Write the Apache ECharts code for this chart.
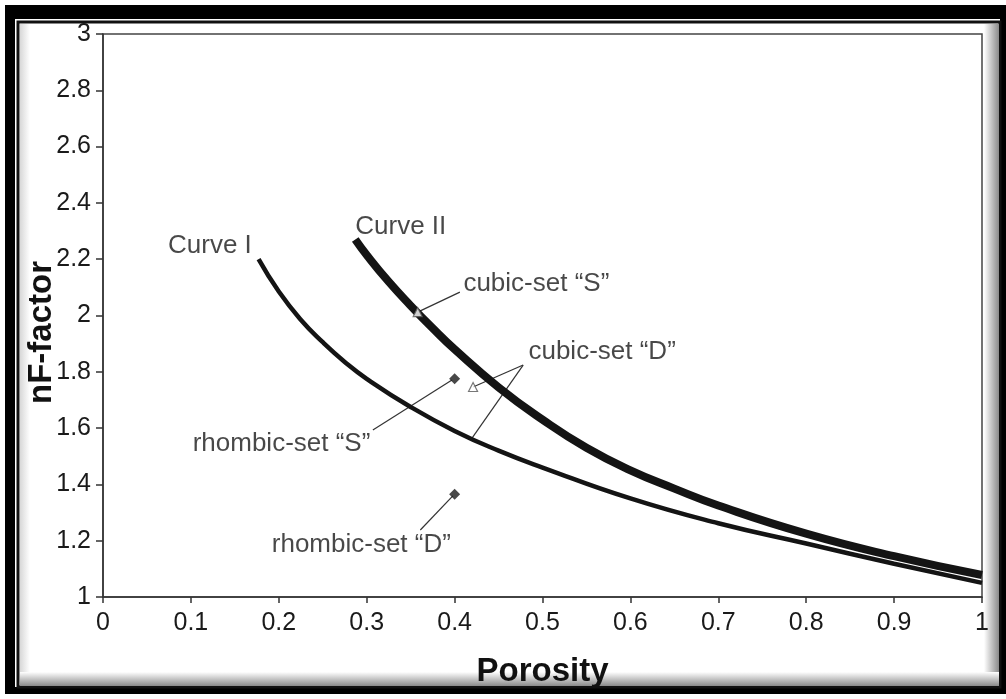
<!DOCTYPE html>
<html>
<head>
<meta charset="utf-8">
<title>nF-factor vs Porosity</title>
<script src="https://cdn.jsdelivr.net/npm/echarts@6/dist/echarts.min.js"></script>
<style>
    html, body { margin: 0; padding: 0; background: #fff; }
    #chart { width: 1006px; height: 699px; }
</style>
</head>
<body>
<div id="chart"></div>
<script>
    // values
    var curve1X = [0.177, 0.2, 0.225, 0.25, 0.275, 0.3, 0.35, 0.4, 0.45, 0.5, 0.6, 0.7, 0.8, 0.9, 1.0];
    var curve1Y = [2.20, 2.085, 1.985, 1.905, 1.835, 1.775, 1.675, 1.59, 1.52, 1.46, 1.35, 1.262, 1.19, 1.118, 1.05];

    var curve2X = [0.287, 0.3, 0.325, 0.35, 0.375, 0.4, 0.45, 0.5, 0.55, 0.6, 0.65, 0.7, 0.8, 0.9, 1.0];
    var curve2Y = [2.27, 2.215, 2.12, 2.035, 1.955, 1.88, 1.745, 1.63, 1.53, 1.45, 1.385, 1.325, 1.225, 1.145, 1.078];

    var rhombicX = [0.4, 0.4];
    var rhombicY = [1.775, 1.365];

    var cubicX = [0.358, 0.421];
    var cubicY = [2.012, 1.746];

    var xTicks = ['0', '0.1', '0.2', '0.3', '0.4', '0.5', '0.6', '0.7', '0.8', '0.9', '1'];

    var noteText = ['Curve I', 'Curve II', 'cubic-set \u201cS\u201d', 'cubic-set \u201cD\u201d', 'rhombic-set \u201cS\u201d', 'rhombic-set \u201cD\u201d'];
    var noteX = [0.074, 0.287, 0.41, 0.484, 0.102, 0.192];
    var noteY = [2.247, 2.314, 2.112, 1.87, 1.544, 1.185];

    // leader lines, [x1, y1, x2, y2]
    var leaders = [
        [0.406, 2.083, 0.358, 2.012],
        [0.478, 1.824, 0.421, 1.746],
        [0.478, 1.824, 0.420, 1.565],
        [0.307, 1.593, 0.397, 1.771],
        [0.361, 1.238, 0.398, 1.359]
    ];

    function zip(xs, ys) {
        var out = [];
        for (var i = 0; i < xs.length; i++) {
            out.push([xs[i], ys[i]]);
        }
        return out;
    }

    var chart = echarts.init(document.getElementById('chart'));

    var series = [{
        name: 'Curve I',
        type: 'line',
        data: zip(curve1X, curve1Y),
        smooth: true,
        symbol: 'none',
        lineStyle: { color: '#141414', width: 4.5 },
        z: 3
    }, {
        name: 'Curve II',
        type: 'line',
        data: zip(curve2X, curve2Y),
        smooth: true,
        symbol: 'none',
        lineStyle: { color: '#141414', width: 8 },
        z: 3
    }];

    leaders.forEach(function(l) {
        series.push({
            type: 'line',
            data: [[l[0], l[1]], [l[2], l[3]]],
            symbol: 'none',
            silent: true,
            lineStyle: { color: '#333', width: 1.2 },
            z: 2
        });
    });

    series.push({
        name: 'cubic',
        type: 'scatter',
        data: zip(cubicX, cubicY),
        symbol: 'triangle',
        symbolSize: 9,
        itemStyle: { color: '#fff', borderColor: '#555', borderWidth: 1.2 },
        z: 4
    });

    series.push({
        name: 'rhombic',
        type: 'scatter',
        data: zip(rhombicX, rhombicY),
        symbol: 'diamond',
        symbolSize: 11,
        itemStyle: { color: '#1a1a1a' },
        z: 4
    });

    series.push({
        name: 'notes',
        type: 'scatter',
        data: zip(noteX, noteY).map(function(p, i) {
            return { value: p, name: noteText[i] };
        }),
        symbolSize: 0,
        silent: true,
        label: {
            show: true,
            position: 'right',
            distance: 0,
            formatter: '{b}',
            color: '#1a1a1a',
            fontSize: 26,
            fontFamily: 'Liberation Sans, Arial, sans-serif'
        },
        z: 5
    });

    chart.setOption({
        backgroundColor: '#fff',
        animation: false,
        textStyle: { fontFamily: 'Liberation Sans, Arial, sans-serif' },
        // frame around the figure
        graphic: [
            { type: 'rect', z: -10, shape: { x: 5, y: 5, width: 1001, height: 689 }, style: { fill: '#000' } },
            { type: 'rect', z: -9, shape: { x: 15, y: 19, width: 985, height: 668 }, style: { fill: '#fff' } },
            { type: 'rect', z: -8, shape: { x: 18, y: 22, width: 982, height: 665 }, style: { fill: '#fff', stroke: '#111', lineWidth: 3 } },
            {
                type: 'rect', z: -7, shape: { x: 984, y: 24, width: 15, height: 662 },
                style: { fill: new echarts.graphic.LinearGradient(0, 0, 1, 0, [{ offset: 0, color: '#fff' }, { offset: 1, color: '#8a8a8a' }]) }
            },
            {
                type: 'rect', z: -7, shape: { x: 20, y: 672, width: 979, height: 14 },
                style: { fill: new echarts.graphic.LinearGradient(0, 0, 0, 1, [{ offset: 0, color: '#fff' }, { offset: 1, color: '#8a8a8a' }]) }
            },
            {
                type: 'rect', z: -7, shape: { x: 20, y: 24, width: 10, height: 648 },
                style: { fill: new echarts.graphic.LinearGradient(0, 0, 1, 0, [{ offset: 0, color: '#d8d8d8' }, { offset: 1, color: '#fff' }]) }
            }
        ],
        grid: {
            left: 103,
            right: 24,
            top: 34,
            bottom: 102,
            show: true,
            borderColor: '#444',
            borderWidth: 1.5,
            backgroundColor: '#fff'
        },
        xAxis: {
            type: 'value',
            min: 0,
            max: 1,
            interval: 0.1,
            name: 'Porosity',
            nameLocation: 'middle',
            nameGap: 58,
            nameMoveOverlap: false,
            nameTextStyle: { fontSize: 33, fontWeight: 'bold', color: '#111' },
            axisLine: { onZero: false, lineStyle: { color: '#333', width: 1.5 } },
            axisTick: { show: true, inside: false, length: 6, lineStyle: { color: '#333', width: 1.5 } },
            axisLabel: {
                margin: 14,
                fontSize: 25,
                color: '#1a1a1a',
                formatter: function(v) {
                    return xTicks[Math.round(v * 10)];
                }
            },
            splitLine: { show: false }
        },
        yAxis: {
            type: 'value',
            min: 1,
            max: 3,
            interval: 0.2,
            name: 'nF-factor',
            nameLocation: 'middle',
            nameGap: 45,
            nameMoveOverlap: false,
            nameTextStyle: { fontSize: 33, fontWeight: 'bold', color: '#111', padding: [0, 34, 0, 0] },
            axisLine: { show: true, onZero: false, lineStyle: { color: '#333', width: 1.5 } },
            axisTick: { show: true, inside: false, length: 7, lineStyle: { color: '#333', width: 1.5 } },
            axisLabel: {
                margin: 12,
                fontSize: 25,
                color: '#1a1a1a',
                formatter: function(v) {
                    return String(Math.round(v * 10) / 10);
                }
            },
            splitLine: { show: false }
        },
        series: series
    });
</script>
</body>
</html>
